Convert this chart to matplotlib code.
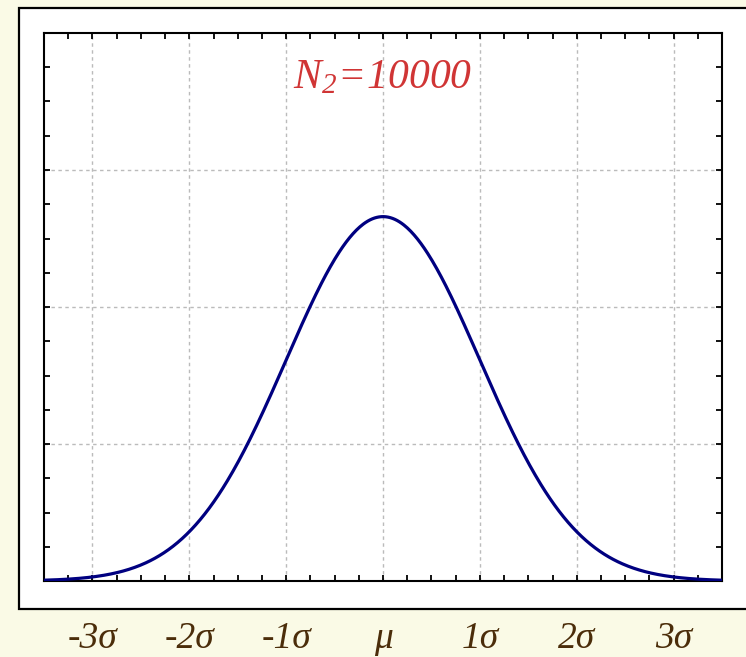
import numpy as np
import matplotlib
matplotlib.use("Agg")
import matplotlib.pyplot as plt
from matplotlib.patches import Rectangle
from matplotlib.transforms import blended_transform_factory

# data
sigma_positions = [-3, -2, -1, 0, 1, 2, 3]
tick_labels = ['-3σ', '-2σ', '-1σ', 'μ', '1σ', '2σ', '3σ']
x_range = (-3.5, 3.5)
y_range = (0.0, 0.6)
sample_label = 'N'
sample_sub = '2'
sample_value = '10000'

x = np.linspace(x_range[0], x_range[1], 600)
y = np.exp(-x**2 / 2) / np.sqrt(2 * np.pi)

plt.rcParams['mathtext.fontset'] = 'custom'
plt.rcParams['mathtext.rm'] = 'Liberation Serif:italic'
plt.rcParams['mathtext.it'] = 'Liberation Serif:italic'

W, H = 746, 657
fig = plt.figure(figsize=(W/100, H/100), dpi=100)
fig.patch.set_facecolor('#FAFAE6')

# white frame
frame = Rectangle((19/W, 1 - 609/H), 1.0, (609-8)/H, transform=fig.transFigure,
                  facecolor='white', edgecolor='black', linewidth=1.6, zorder=-5)
fig.patches.append(frame)

ax = fig.add_axes([44/W, 1 - 581/H, (722-44)/W, (581-33)/H])
ax.set_zorder(2)
ax.set_facecolor('white')
ax.plot(x, y, color='#000080', linewidth=2.3, solid_capstyle='round', zorder=3)
ax.set_xlim(*x_range)
ax.set_ylim(*y_range)

ax.set_xticks(sigma_positions)
ax.set_xticks(np.arange(-3.5, 3.51, 0.25), minor=True)
ax.set_yticks([0.15, 0.3, 0.45])
ax.set_yticks(np.arange(0, 0.601, 0.0375), minor=True)
ax.set_xticklabels([])
ax.set_yticklabels([])
ax.tick_params(which='both', direction='in', length=4, width=1.3,
               top=True, bottom=True, left=True, right=True)
for s in ax.spines.values():
    s.set_linewidth(1.5)
ax.grid(True, which='major', color='#BBBBBB', linestyle=(0, (2.5, 2.5)), linewidth=1.0)

trans = blended_transform_factory(ax.transData, fig.transFigure)
for pos, lab in zip(sigma_positions, tick_labels):
    ax.text(pos, 1 - 648/H, lab, transform=trans, ha='center', va='baseline',
            fontsize=27, family='Liberation Serif', style='italic', color='#4B2D0A',
            clip_on=False)

# N_2=10000 label
txt = r'$' + sample_label + '_{' + sample_sub + r'}\!=\!' + sample_value + r'$'
ax.text(0, 1 - 88/H, txt, transform=trans, ha='center', va='baseline',
        fontsize=30, color='#D03535')

fig.savefig('out.png', dpi=100, facecolor=fig.get_facecolor())
